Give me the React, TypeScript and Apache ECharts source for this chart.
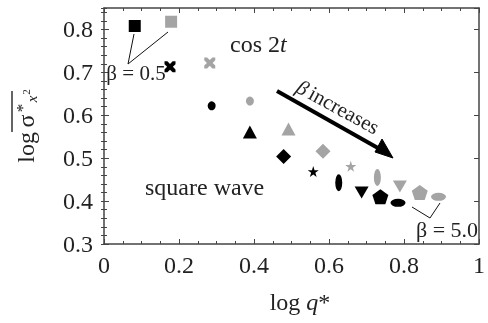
import React, { useEffect, useRef } from 'react';
import * as echarts from 'echarts';

// black series (square wave) and gray series (cos 2t), log q* vs log sigma*
const blackX = [0.082, 0.176, 0.287, 0.389, 0.479, 0.558, 0.626, 0.687, 0.737, 0.784];
const blackY = [0.808, 0.713, 0.622, 0.561, 0.504, 0.469, 0.443, 0.42, 0.41, 0.396];
const grayX = [0.179, 0.282, 0.389, 0.492, 0.584, 0.658, 0.729, 0.789, 0.842, 0.892];
const grayY = [0.818, 0.722, 0.633, 0.568, 0.516, 0.481, 0.455, 0.434, 0.42, 0.41];

const xMin = 0;
const xMax = 1;
const xStep = 0.2;
const yMin = 0.3;
const yMax = 0.85;
const yStep = 0.1;
const yMinorStep = 0.02;

const SYMBOLS: Record<string, string> = {
  square: 'rect',
  cross: 'path://M0,0 L2.6,0 L5,2.4 L7.4,0 L10,0 L10,2.6 L7.6,5 L10,7.4 L10,10 L7.4,10 L5,7.6 L2.6,10 L0,10 L0,7.4 L2.4,5 L0,2.6 Z',
  dot: 'circle',
  triangle: 'triangle',
  diamond: 'diamond',
  star: 'path://M50,0 L61.2,34.5 L97.6,34.5 L68.2,55.9 L79.4,90.5 L50,69.1 L20.6,90.5 L31.8,55.9 L2.4,34.5 L38.8,34.5 Z',
  ellipse: 'path://M0,50 A50,50 0 1,1 100,50 A50,50 0 1,1 0,50 Z',
  pentagon: 'path://M50,0 L97.6,34.5 L79.4,90.5 L20.6,90.5 L2.4,34.5 Z',
};

const markerShapes = ['square', 'cross', 'dot', 'triangle', 'diamond', 'star', 'ellipse', 'triangle', 'pentagon', 'ellipse'];
const markerSizes: [number, number][] = [[12, 12], [11, 11], [8, 9], [14, 13], [15, 15], [11, 11], [7, 17], [14, 12], [16, 15], [15, 8]];
const markerRotate = [0, 0, 0, 0, 0, 0, 0, 180, 0, 0];

const SERIF = '"Liberation Serif", "DejaVu Serif", serif';
const FRAME = '#444';
const TEXT = '#222';

function buildItems(xs: number[], ys: number[]) {
  return xs.map((x, i) => ({
    value: [x, ys[i]],
    symbol: SYMBOLS[markerShapes[i]],
    symbolSize: markerSizes[i],
    symbolRotate: markerRotate[i],
  }));
}

export default function App() {
  const ref = useRef<HTMLDivElement>(null);
  useEffect(() => {
    if (!ref.current) return;
    const chart = echarts.init(ref.current, null, { renderer: 'svg' });
    const lineStyle = { color: FRAME, width: 1.5 };
    const tickStyle = { color: FRAME, width: 1 };
    const xBase = {
      type: 'value' as const,
      min: xMin,
      max: xMax,
      interval: xStep,
      axisLine: { show: true, onZero: false, lineStyle },
      axisTick: { show: true, inside: true, length: 5, lineStyle: tickStyle },
      minorTick: { show: true, splitNumber: 4, length: 3, lineStyle: tickStyle },
      splitLine: { show: false },
      minorSplitLine: { show: false },
    };
    const yMajor = {
      type: 'value' as const,
      min: yMin,
      max: yMax,
      interval: yStep,
      axisLine: { show: true, onZero: false, lineStyle },
      axisTick: { show: true, inside: true, length: 5, lineStyle: tickStyle },
      splitLine: { show: false },
    };
    const yMinor = {
      type: 'value' as const,
      min: yMin,
      max: yMax,
      interval: yMinorStep,
      axisLine: { show: false },
      axisTick: { show: true, inside: true, length: 3, lineStyle: tickStyle },
      axisLabel: { show: false },
      splitLine: { show: false },
    };
    chart.setOption({
      animation: false,
      grid: { left: 104, right: 5, top: 8, bottom: 79, containLabel: false },
      xAxis: [
        {
          ...xBase,
          position: 'bottom',
          axisLabel: { fontFamily: SERIF, fontSize: 24, color: TEXT, margin: 9 },
        },
        { ...xBase, position: 'top', axisLabel: { show: false } },
      ],
      yAxis: [
        {
          ...yMajor,
          position: 'left',
          axisLabel: {
            fontFamily: SERIF,
            fontSize: 24,
            color: TEXT,
            margin: 11,
            showMaxLabel: false,
            formatter: (v: number) => v.toFixed(1),
          },
        },
        { ...yMinor, position: 'left' },
        { ...yMajor, position: 'right', axisLabel: { show: false } },
        { ...yMinor, position: 'right' },
      ],
      series: [
        {
          type: 'scatter',
          name: 'square wave',
          xAxisIndex: 0,
          yAxisIndex: 0,
          itemStyle: { color: '#000', opacity: 1 },
          data: buildItems(blackX, blackY),
          z: 5,
        },
        {
          type: 'scatter',
          name: 'cos 2t',
          xAxisIndex: 0,
          yAxisIndex: 0,
          itemStyle: { color: '#a4a4a4', opacity: 1 },
          data: buildItems(grayX, grayY),
          z: 5,
        },
      ],
      graphic: [
        // beta = 0.5 annotation
        {
          type: 'polyline',
          shape: { points: [[134, 34], [128, 64], [168, 32]] },
          style: { stroke: '#111', lineWidth: 1, fill: null },
          z: 10,
        },
        {
          type: 'text',
          x: 136,
          y: 73,
          style: { text: 'β = 0.5', font: `21px ${SERIF}`, fill: TEXT, align: 'center', verticalAlign: 'middle' },
          z: 10,
        },
        // cos 2t
        {
          type: 'text',
          x: 230,
          y: 44,
          style: {
            text: '{n|cos 2}{i|t}',
            rich: {
              n: { font: `24px ${SERIF}`, fill: TEXT },
              i: { font: `italic 24px ${SERIF}`, fill: TEXT },
            },
            align: 'left',
            verticalAlign: 'middle',
          },
          z: 10,
        },
        // square wave
        {
          type: 'text',
          x: 145,
          y: 187,
          style: { text: 'square wave', font: `24px ${SERIF}`, fill: TEXT, align: 'left', verticalAlign: 'middle' },
          z: 10,
        },
        // arrow
        {
          type: 'line',
          shape: { x1: 277, y1: 91, x2: 385, y2: 152 },
          style: { stroke: '#000', lineWidth: 4 },
          z: 10,
        },
        {
          type: 'polygon',
          shape: { points: [[393, 158], [382, 139], [375, 152]] },
          style: { fill: '#000', stroke: '#000', lineWidth: 1 },
          z: 10,
        },
        {
          type: 'text',
          x: 338,
          y: 107,
          rotation: -0.5,
          style: {
            text: '{i|β} {n|increases}',
            rich: {
              n: { font: `21px ${SERIF}`, fill: TEXT },
              i: { font: `italic 21px ${SERIF}`, fill: TEXT },
            },
            align: 'center',
            verticalAlign: 'middle',
          },
          z: 10,
        },
        // beta = 5.0 annotation
        {
          type: 'polyline',
          shape: { points: [[412, 207], [430, 218], [440, 203]] },
          style: { stroke: '#111', lineWidth: 1, fill: null },
          z: 10,
        },
        {
          type: 'text',
          x: 447,
          y: 229,
          style: { text: 'β = 5.0', font: `22px ${SERIF}`, fill: TEXT, align: 'center', verticalAlign: 'middle' },
          z: 10,
        },
        // x axis title
        {
          type: 'text',
          x: 300,
          y: 302,
          style: {
            text: '{n|log }{i|q}{n|*}',
            rich: {
              n: { font: `24px ${SERIF}`, fill: TEXT },
              i: { font: `italic 24px ${SERIF}`, fill: TEXT },
            },
            align: 'center',
            verticalAlign: 'middle',
          },
          z: 10,
        },
        // y axis title
        {
          type: 'group',
          x: 26,
          y: 133,
          rotation: Math.PI / 2,
          children: [
            {
              type: 'text',
              x: 1,
              y: 0,
              style: { text: 'log', font: `24px ${SERIF}`, fill: TEXT, align: 'right', verticalAlign: 'middle' },
            },
            {
              type: 'text',
              x: 12,
              y: 0,
              style: { text: 'σ', font: `24px ${SERIF}`, fill: TEXT, align: 'center', verticalAlign: 'middle' },
            },
            {
              type: 'text',
              x: 25,
              y: -4,
              style: { text: '*', font: `17px ${SERIF}`, fill: TEXT, align: 'center', verticalAlign: 'middle' },
            },
            {
              type: 'text',
              x: 34,
              y: 6,
              style: { text: 'x', font: `italic 15px ${SERIF}`, fill: TEXT, align: 'center', verticalAlign: 'middle' },
            },
            {
              type: 'text',
              x: 41,
              y: 0,
              style: { text: '2', font: `11px ${SERIF}`, fill: TEXT, align: 'center', verticalAlign: 'middle' },
            },
            {
              type: 'line',
              shape: { x1: 1, y1: -14, x2: 42, y2: -14 },
              style: { stroke: '#111', lineWidth: 1.3 },
            },
          ],
          z: 10,
        },
      ],
    });
    return () => chart.dispose();
  }, []);
  return <div ref={ref} style={{ position: 'fixed', left: 0, top: 0, width: 488, height: 323 }} />;
}
